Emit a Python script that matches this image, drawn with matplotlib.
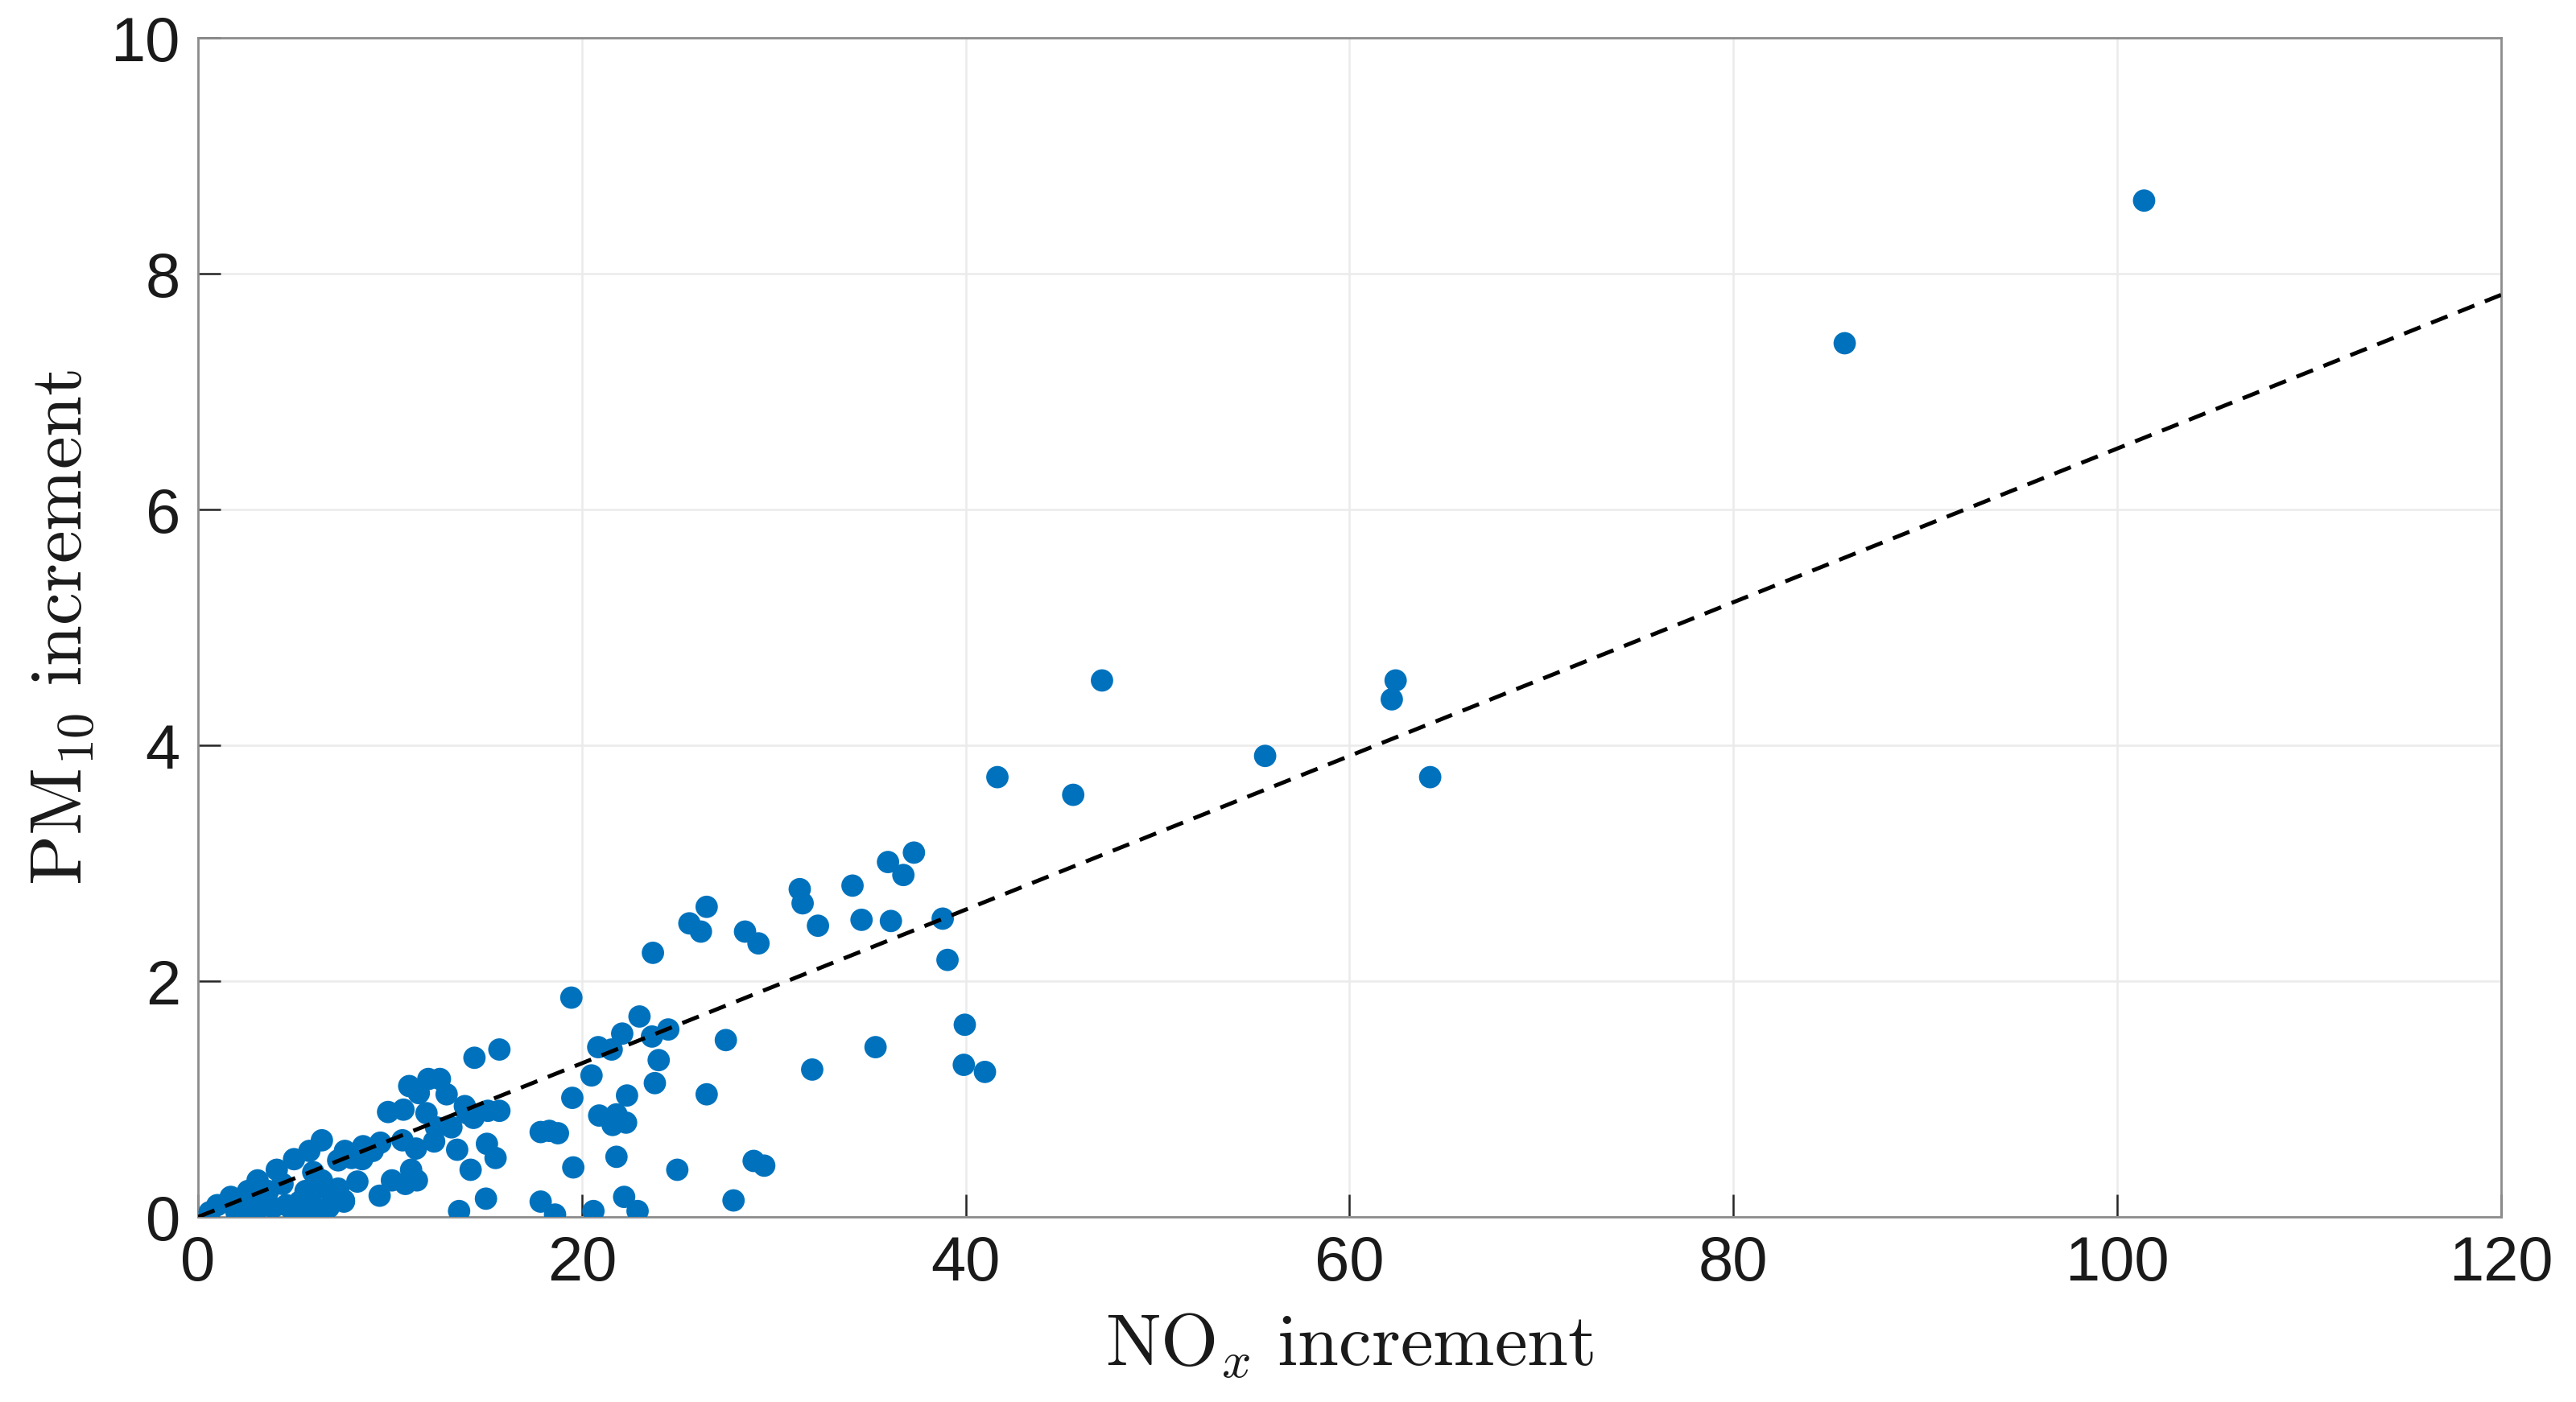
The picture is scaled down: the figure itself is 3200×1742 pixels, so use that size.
import matplotlib
matplotlib.use("Agg")
import matplotlib.pyplot as plt

nox = [101.4, 85.8, 47.1, 62.4, 62.2, 64.2, 55.6, 41.65, 45.6,
       37.3, 35.95, 36.75, 34.1, 31.35, 31.5, 32.3, 34.57, 36.1, 38.8, 39.05,
       26.5, 25.6, 26.2, 28.5, 29.2, 23.7, 19.45,
       39.95, 39.9, 41.0, 35.3, 32.0, 27.5, 26.5,
       23.0, 24.5, 22.1, 23.65, 20.85, 21.55, 24.0, 20.5, 23.8, 19.5, 22.35,
       20.9, 21.8, 21.6, 22.3, 17.85, 18.3, 18.75, 19.55, 21.8, 24.97, 28.95, 29.5,
       17.85, 18.6, 20.6, 22.2, 22.9, 27.9,
       14.4, 15.7, 11.0, 12.0, 12.6, 11.5, 12.95, 13.9, 15.1, 15.7, 9.9, 10.7,
       11.9, 13.2, 14.0, 14.35, 12.4, 10.65, 9.5, 11.35, 12.3, 13.5, 15.05, 15.5,
       14.2, 11.1, 10.1, 10.8, 11.4, 9.46, 15.0, 13.6,
       7.7, 8.55, 7.3, 9.1, 8.0, 7.6, 7.3, 6.45, 5.8, 5.0, 7.65, 4.1, 3.1, 1.7,
       1.0, 0.6, 6.45, 6.7, 5.6, 7.6, 2.5, 2.95, 3.9, 4.6, 5.5, 6.2, 2.0, 7.15,
       5.3, 3.65, 4.4, 6.0, 3.4, 4.9, 6.8, 8.3, 2.6, 5.9, 8.6]
pm10 = [8.62, 7.41, 4.55, 4.55, 4.39, 3.73, 3.91, 3.73, 3.58,
        3.09, 3.01, 2.90, 2.81, 2.78, 2.66, 2.47, 2.52, 2.51, 2.53, 2.18,
        2.63, 2.49, 2.42, 2.42, 2.32, 2.24, 1.86,
        1.63, 1.29, 1.23, 1.44, 1.25, 1.50, 1.04,
        1.70, 1.59, 1.555, 1.53, 1.44, 1.42, 1.33, 1.20, 1.135, 1.01, 1.03,
        0.86, 0.87, 0.78, 0.80, 0.72, 0.73, 0.71, 0.42, 0.51, 0.40, 0.475, 0.435,
        0.13, 0.02, 0.05, 0.17, 0.05, 0.14,
        1.35, 1.42, 1.11, 1.17, 1.17, 1.05, 1.04, 0.94, 0.90, 0.90, 0.89, 0.91,
        0.88, 0.76, 0.88, 0.84, 0.76, 0.65, 0.63, 0.58, 0.64, 0.57, 0.62, 0.50,
        0.40, 0.40, 0.31, 0.28, 0.31, 0.18, 0.155, 0.05,
        0.54, 0.49, 0.48, 0.56, 0.50, 0.14, 0.24, 0.65, 0.56, 0.49, 0.56, 0.40, 0.31, 0.17,
        0.10, 0.04, 0.31, 0.24, 0.22, 0.13, 0.10, 0.01, 0.08, 0.10, 0.01, 0.01, 0.04, 0.195,
        0.13, 0.22, 0.28, 0.38, 0.15, 0.06, 0.08, 0.30, 0.22, 0.12, 0.60]

fit_x = [0, 120]
fit_y = [0, 7.82]

x_ticks = [0, 20, 40, 60, 80, 100, 120]
y_ticks = [0, 2, 4, 6, 8, 10]

plt.rcParams['font.family'] = ['Liberation Sans', 'DejaVu Sans']
plt.rcParams['mathtext.fontset'] = 'cm'

fig = plt.figure(figsize=(16, 8.71), dpi=200)
ax = fig.add_axes([0.0769, 0.132, 0.894, 0.841])

ax.scatter(nox, pm10, s=100, color='#0072BD', edgecolors='none', zorder=3)
ax.plot(fit_x, fit_y, color='black', lw=1.8, linestyle=(0, (4.4, 2.8)), zorder=4)

ax.set_xlim(0, 120)
ax.set_ylim(0, 10)
ax.set_xticks(x_ticks)
ax.set_yticks(y_ticks)
ax.grid(True, color='#ebebeb', lw=0.9, zorder=0)
ax.set_axisbelow(True)
for sp in ax.spines.values():
    sp.set_color('#8c8c8c')
    sp.set_linewidth(1.0)
ax.tick_params(direction='in', length=10, width=0.9, color='#262626',
               labelsize=28, labelcolor='#1a1a1a', pad=8, top=False, right=False)

ax.set_xlabel(r'$\mathrm{NO}_x\ \mathrm{increment}$', fontsize=33, labelpad=8, color='#1a1a1a')
ax.set_ylabel(r'$\mathrm{PM}_{10}\ \mathrm{increment}$', fontsize=33, labelpad=6, color='#1a1a1a')

fig.savefig('out.png', dpi=200, facecolor='white')
